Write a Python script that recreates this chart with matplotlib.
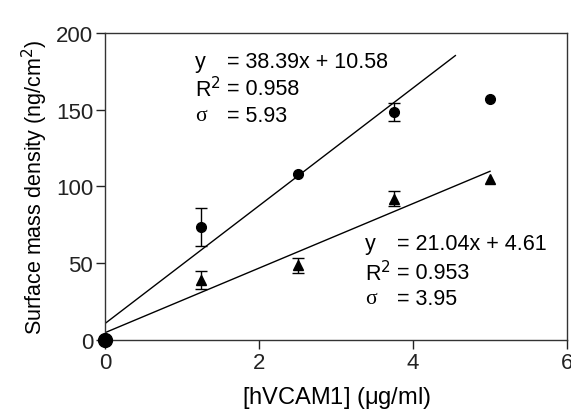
import matplotlib
matplotlib.use("Agg")
import matplotlib.pyplot as plt
import numpy as np

plt.rcParams['font.family'] = ['Liberation Sans', 'DejaVu Sans']

conc = [1.25, 2.5, 3.75, 5.0]
circle_y = [73.5, 108.3, 148.5, 156.8]
circle_err = [12.5, 0.0, 5.6, 0.0]
tri_y = [39.0, 48.4, 92.0, 104.5]
tri_err = [6.0, 5.0, 5.0, 0.0]

fit1_slope, fit1_int, fit1_xmax = 38.39, 10.58, 4.55
fit2_slope, fit2_int, fit2_xmax = 21.04, 4.61, 5.0

fig = plt.figure(figsize=(5.71, 4.14), dpi=100)
ax = fig.add_axes([0.184, 0.177, 0.809, 0.741])

x1 = np.array([0, fit1_xmax])
ax.plot(x1, fit1_slope * x1 + fit1_int, color='black', lw=1.0, zorder=2)
x2 = np.array([0, fit2_xmax])
ax.plot(x2, fit2_slope * x2 + fit2_int, color='black', lw=1.0, zorder=2)


def draw(xs, ys, errs, marker, ms):
    xs, ys, errs = np.array(xs), np.array(ys), np.array(errs)
    m = errs > 0
    ax.errorbar(xs[m], ys[m], yerr=errs[m], fmt='none', ecolor='black',
                capsize=4, elinewidth=1, capthick=1, zorder=3)
    ax.plot(xs, ys, marker, color='black', ms=ms, ls='none', zorder=4)


draw(conc, circle_y, circle_err, 'o', 7)
draw(conc, tri_y, tri_err, '^', 7)
ax.plot([0], [0], 'o', color='black', ms=10, zorder=4, clip_on=False)

ax.set_xlim(0, 6)
ax.set_ylim(0, 200)
ax.set_xticks([0, 2, 4, 6])
ax.set_yticks([0, 50, 100, 150, 200])
ax.tick_params(direction='out', length=6.5, width=1, labelsize=16, pad=2,
               colors='#222222')
for s in ax.spines.values():
    s.set_linewidth(1.0)
    s.set_color('#333333')

ax.set_xlabel('[hVCAM1] ($\\mathregular{\\mu}$g/ml)', fontsize=17, labelpad=8)
ax.set_ylabel('Surface mass density (ng/cm$^2$)', fontsize=15.5, labelpad=4)

fs = 15.5
blocks = [
    (1.17, 1.58, [181.5, 164, 146], ['y', 'R$^2$', 'σ'],
     ['= 38.39x + 10.58', '= 0.958', '= 5.93']),
    (3.38, 3.79, [62.5, 43.6, 26.6], ['y', 'R$^2$', 'σ'],
     ['= 21.04x + 4.61', '= 0.953', '= 3.95']),
]
for xl, xr, ys, lefts, rights in blocks:
    for yy, l, r in zip(ys, lefts, rights):
        fam = ['Liberation Serif'] if l == 'σ' else ['Liberation Sans']
        ax.text(xl, yy, l, fontsize=fs, va='center', ha='left', family=fam)
        ax.text(xr, yy, r, fontsize=fs, va='center', ha='left')

fig.savefig('out.png', dpi=100)
